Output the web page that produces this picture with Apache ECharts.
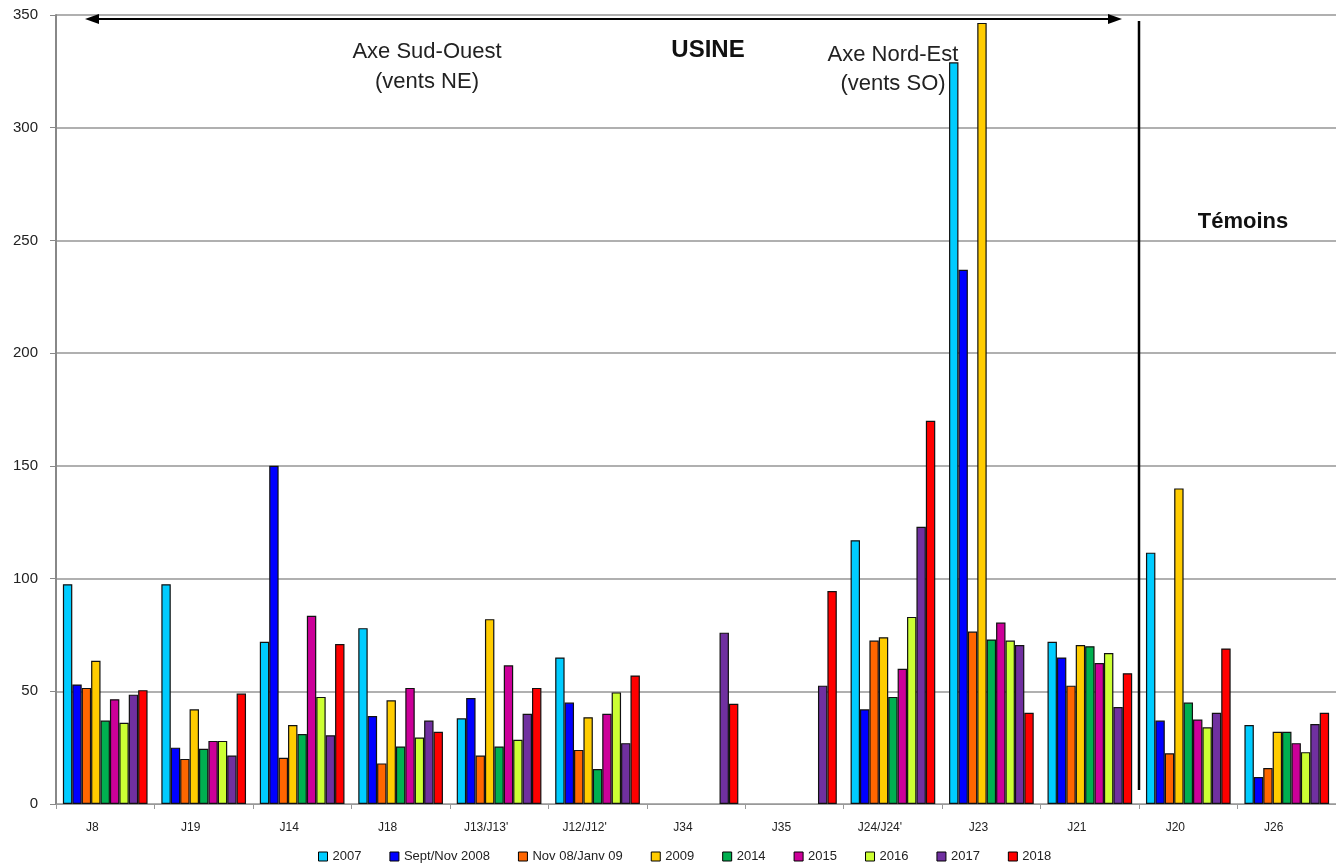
<!DOCTYPE html>
<html>
<head>
<meta charset="utf-8">
<script src="https://cdn.jsdelivr.net/npm/echarts@6/dist/echarts.min.js"></script>
<style>
    html, body {margin: 0; padding: 0; background: #fff;}
    #chart {width: 1336px; height: 865px;}
</style>
</head>
<body>
<div id="chart"></div>
<script>
// categories (sampling points)
const points = ['J8', 'J19', 'J14', 'J18', "J13/J13'", "J12/J12'", 'J34', 'J35', "J24/J24'", 'J23', 'J21', 'J20', 'J26'];

// campaigns
const campaigns = ['2007', 'Sept/Nov 2008', 'Nov 08/Janv 09', '2009', '2014', '2015', '2016', '2017', '2018'];
const colors = ['#00ccff', '#0000ff', '#ff6600', '#ffcc00', '#00b050', '#cc0099', '#ccff33', '#7030a0', '#ff0000'];

// values, one array per campaign
const v2007 = [97.5, 97.5, 72, 78, 38, 65, null, null, 117, 329, 72, 111.5, 35];
const v2008 = [53, 25, 150, 39, 47, 45, null, null, 42, 237, 65, 37, 12];
const v0809 = [51.5, 20, 20.5, 18, 21.5, 24, null, null, 72.5, 76.5, 52.5, 22.5, 16];
const v2009 = [63.5, 42, 35, 46, 82, 38.5, null, null, 74, 346.5, 70.5, 140, 32];
const v2014 = [37, 24.5, 31, 25.5, 25.5, 15.5, null, null, 47.5, 73, 70, 45, 32];
const v2015 = [46.5, 28, 83.5, 51.5, 61.5, 40, null, null, 60, 80.5, 62.5, 37.5, 27];
const v2016 = [36, 28, 47.5, 29.5, 28.5, 49.5, null, null, 83, 72.5, 67, 34, 23];
const v2017 = [48.5, 21.5, 30.5, 37, 40, 27, 76, 52.5, 123, 70.5, 43, 40.5, 35.5];
const v2018 = [50.5, 49, 71, 32, 51.5, 57, 44.5, 94.5, 170, 40.5, 58, 69, 40.5];
const seriesValues = [v2007, v2008, v0809, v2009, v2014, v2015, v2016, v2017, v2018];

const yTicks = {min: 0, max: 350, interval: 50};

const chart = echarts.init(document.getElementById('chart'));

const textColor = '#222';
const font = 'Liberation Sans, Arial, sans-serif';

// double arrow over the "USINE" zone
const arrowY = 19;
const arrowL = 85, arrowR = 1122;

const option = {
    animation: false,
    color: colors,
    textStyle: {fontFamily: font},
    grid: {left: 56, right: 0, top: 15, bottom: 61},
    legend: {
        data: campaigns,
        top: 845,
        left: 313,
        itemWidth: 9,
        itemHeight: 9,
        itemGap: 28,
        icon: 'rect',
        itemStyle: {borderColor: '#000', borderWidth: 1},
        textStyle: {fontSize: 13, color: textColor, fontFamily: font}
    },
    xAxis: {
        type: 'category',
        data: points,
        axisLine: {lineStyle: {color: '#999', width: 1}},
        axisTick: {show: true, length: 5, lineStyle: {color: '#999'}},
        axisLabel: {color: textColor, fontSize: 12, margin: 18, padding: [0, 26, 0, 0]}
    },
    yAxis: {
        type: 'value',
        min: yTicks.min,
        max: yTicks.max,
        interval: yTicks.interval,
        axisLine: {show: true, lineStyle: {color: '#888', width: 2}},
        axisTick: {show: true, length: 6, lineStyle: {color: '#888'}},
        axisLabel: {color: textColor, fontSize: 15, margin: 18},
        splitLine: {lineStyle: {color: '#b0b0b0', width: 2}}
    },
    series: campaigns.map((name, i) => ({
        type: 'bar',
        name: name,
        data: seriesValues[i],
        barGap: '0%',
        barCategoryGap: '14%',
        itemStyle: {color: colors[i], borderColor: '#111', borderWidth: 1.2}
    })),
    graphic: [
        {type: 'line', z: 100, shape: {x1: arrowL + 10, y1: arrowY, x2: arrowR - 10, y2: arrowY}, style: {stroke: '#000', lineWidth: 2}},
        {type: 'polygon', z: 100, shape: {points: [[arrowL, arrowY], [arrowL + 14, arrowY - 5], [arrowL + 14, arrowY + 5]]}, style: {fill: '#000'}},
        {type: 'polygon', z: 100, shape: {points: [[arrowR, arrowY], [arrowR - 14, arrowY - 5], [arrowR - 14, arrowY + 5]]}, style: {fill: '#000'}},
        {type: 'line', z: 100, shape: {x1: 1139, y1: 21, x2: 1139, y2: 790}, style: {stroke: '#000', lineWidth: 2.5}},
        {type: 'text', z: 100, x: 427, y: 52, style: {text: 'Axe Sud-Ouest', font: '22px ' + font, fill: textColor, align: 'center', verticalAlign: 'middle'}},
        {type: 'text', z: 100, x: 427, y: 82, style: {text: '(vents NE)', font: '22px ' + font, fill: textColor, align: 'center', verticalAlign: 'middle'}},
        {type: 'text', z: 100, x: 708, y: 50, style: {text: 'USINE', font: 'bold 24px ' + font, fill: '#111', align: 'center', verticalAlign: 'middle'}},
        {type: 'text', z: 100, x: 893, y: 55, style: {text: 'Axe Nord-Est', font: '22px ' + font, fill: textColor, align: 'center', verticalAlign: 'middle'}},
        {type: 'text', z: 100, x: 893, y: 84, style: {text: '(vents SO)', font: '22px ' + font, fill: textColor, align: 'center', verticalAlign: 'middle'}},
        {type: 'text', z: 100, x: 1243, y: 222, style: {text: 'Témoins', font: 'bold 22px ' + font, fill: '#111', align: 'center', verticalAlign: 'middle'}}
    ]
};

chart.setOption(option);
</script>
</body>
</html>
